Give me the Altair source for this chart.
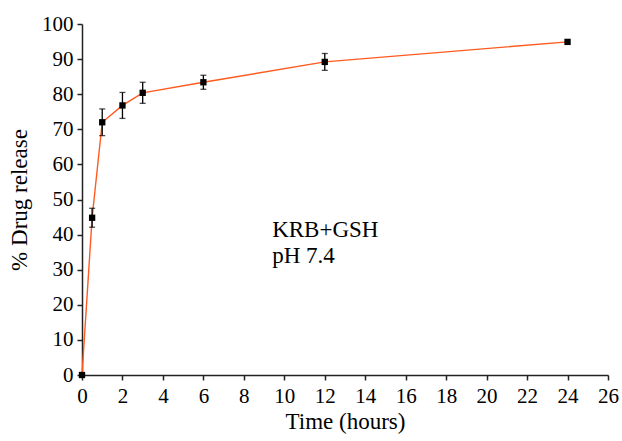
import altair as alt
import pandas as pd

time_h = [0, 0.5, 1, 2, 3, 6, 12, 24]
release = [0, 44.8, 72.0, 76.8, 80.4, 83.4, 89.2, 94.9]
err = [0, 2.7, 3.8, 3.7, 3.0, 2.0, 2.4, 0]

labels = ["KRB+GSH", "pH 7.4"]
label_x = [9.4, 9.4]
label_y = [39.4, 31.8]

df = pd.DataFrame({"t": time_h, "r": release, "e": err})
df["lo"] = df["r"] - df["e"]
df["hi"] = df["r"] + df["e"]
dferr = df[df["e"] > 0]
dtxt = pd.DataFrame({"t": label_x, "r": label_y, "txt": labels})

FONT = "Liberation Serif"
xs = alt.Scale(domain=[0, 26], nice=False, zero=False)
ys = alt.Scale(domain=[0, 100], nice=False, zero=False)

common = dict(grid=False, domainColor="#222222", domainWidth=1.5, tickColor="#222222", tickWidth=1.5,
              tickSize=5, labelFont=FONT, labelFontSize=21, labelColor="black", titleFont=FONT,
              titleFontSize=23, titleFontWeight="normal", titleColor="black",
              labelOverlap=False, labelFlush=False)
xaxis = alt.Axis(values=list(range(0, 27, 2)), labelPadding=5, titlePadding=4, **common)
yaxis = alt.Axis(values=list(range(0, 101, 10)), labelPadding=4, titlePadding=10, **common)


def X(f):
    return alt.X(f, type="quantitative", scale=xs, title="Time (hours)", axis=xaxis)


def Y(f):
    return alt.Y(f, type="quantitative", scale=ys, title="% Drug release", axis=yaxis)


line = alt.Chart(df).mark_line(color="#FF5A1F", strokeWidth=1.4).encode(x=X("t"), y=Y("r"))
rules = alt.Chart(dferr).mark_rule(color="black", strokeWidth=1.3).encode(
    x=X("t"), y=Y("lo"), y2="hi:Q")
caps_hi = alt.Chart(dferr).mark_tick(color="black", orient="horizontal", size=6, thickness=1.3).encode(
    x=X("t"), y=Y("hi"))
caps_lo = alt.Chart(dferr).mark_tick(color="black", orient="horizontal", size=6, thickness=1.3).encode(
    x=X("t"), y=Y("lo"))
pts = alt.Chart(df).mark_square(color="black", size=40, opacity=1).encode(x=X("t"), y=Y("r"))
txt = alt.Chart(dtxt).mark_text(font=FONT, fontSize=23, align="left", baseline="alphabetic",
                                color="black").encode(x=X("t"), y=Y("r"), text="txt:N")

chart = alt.layer(line, rules, caps_hi, caps_lo, pts, txt).properties(
    width=526, height=351,
    autosize=alt.AutoSizeParams(type="none"),
    padding={"left": 82, "top": 24, "right": 14, "bottom": 66},
).configure_view(stroke=None)

chart.save("out.html", embed_options={"renderer": "svg", "actions": False})
